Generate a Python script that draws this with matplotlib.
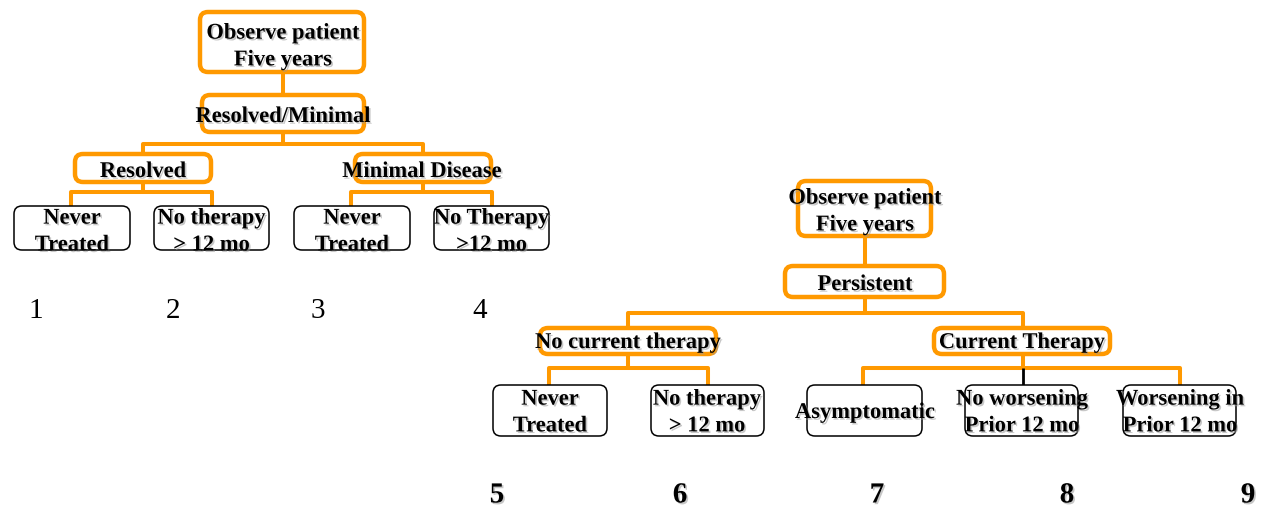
import matplotlib
matplotlib.use("Agg")
import matplotlib.pyplot as plt
from matplotlib.patches import FancyBboxPatch
import matplotlib.patheffects as pe

# ── Labels ────────────────────────────────────────────────────────────────────
LEFT_ROOT   = "Observe patient\nFive years"
LEFT_MID    = "Resolved/Minimal"
LEFT_BRANCH = ["Resolved", "Minimal Disease"]
LEFT_LEAVES = ["Never\nTreated", "No therapy\n> 12 mo", "Never\nTreated", "No Therapy\n>12 mo"]
LEFT_NUMS   = ["1", "2", "3", "4"]

RIGHT_ROOT   = "Observe patient\nFive years"
RIGHT_MID    = "Persistent"
RIGHT_BRANCH = ["No current therapy", "Current Therapy"]
RIGHT_LEAVES = ["Never\nTreated", "No therapy\n> 12 mo", "Asymptomatic",
                "No worsening\nPrior 12 mo", "Worsening in\nPrior 12 mo"]
RIGHT_NUMS   = ["5", "6", "7", "8", "9"]

ORANGE = "#FF9900"
FONT = "Liberation Serif"
SHADOW = [pe.SimplePatchShadow(offset=(1.2, -1.2), shadow_rgbFace="#999999", alpha=0.55),
          pe.Normal()]

fig = plt.figure(figsize=(12.64, 5.10), dpi=100)
ax = fig.add_axes([0, 0, 1, 1])
ax.set_xlim(0, 1264)
ax.set_ylim(510, 0)
ax.axis("off")


def line(xs, ys, color=ORANGE, lw=2.9):
    ax.plot(xs, ys, color=color, lw=lw, solid_capstyle="butt", zorder=1)


def box(x0, y0, x1, y1, orange=True):
    p = FancyBboxPatch((x0, y0), x1 - x0, y1 - y0,
                       boxstyle="round,pad=0,rounding_size=8",
                       fc="white", ec=ORANGE if orange else "black",
                       lw=3.2 if orange else 1.1, zorder=2)
    ax.add_patch(p)


def label(x, y, s, size=16.2, weight="bold"):
    # small downward nudge: va="center" counts the descender
    t = ax.text(x, y + 3, s, ha="center", va="center", fontsize=size,
                fontweight=weight, family=FONT, zorder=3, linespacing=1.45)
    t.set_path_effects(SHADOW)


# ── Left tree ─────────────────────────────────────────────────────────────────
line([283, 283], [73, 96])
line([283, 283], [133, 145])
line([143, 143, 423, 423], [155, 145, 145, 155])
for cx, (a, b) in zip([143, 423], [(71, 212), (351, 492)]):
    line([cx, cx], [183, 193])
    line([a, a, b, b], [207, 193, 193, 207])

box(200, 13, 364, 73)
label(283, 45, LEFT_ROOT)
box(202, 96, 364, 133)
label(283, 115, LEFT_MID)
for (x0, x1), cx, s in zip([(75, 211), (355, 491)], [143, 422], LEFT_BRANCH):
    box(x0, 155, x1, 183)
    label(cx, 170, s)

leaf_x = [(14, 130), (154, 269), (294, 410), (434, 549)]
for (x0, x1), s in zip(leaf_x, LEFT_LEAVES):
    box(x0, 207, x1, 251, orange=False)
    label((x0 + x1) / 2, 230, s)

for x, s in zip([36, 173, 318, 480], LEFT_NUMS):
    ax.text(x, 311, s, ha="center", va="center", fontsize=21,
            family=FONT, fontweight="normal")

# ── Right tree ────────────────────────────────────────────────────────────────
line([865, 865], [237, 267])
line([865, 865], [298, 314])
line([628, 628, 1023, 1023], [329, 314, 314, 329])
line([628, 628], [355, 369])
line([549, 549, 708, 708], [386, 369, 369, 386])
line([1023, 1023], [355, 369])
line([863, 863, 1180, 1180], [386, 369, 369, 386])
line([1023, 1023], [369, 386], color="black", lw=2.0)

box(798, 182, 931, 237)
label(865, 210, RIGHT_ROOT)
box(785, 267, 944, 298)
label(865, 283, RIGHT_MID)
for (x0, x1), cx, s in zip([(540, 716), (934, 1110)], [628, 1022], RIGHT_BRANCH):
    box(x0, 329, x1, 355)
    label(cx, 341, s)

leaf_x = [(493, 607), (651, 764), (807, 922), (965, 1078), (1123, 1236)]
leaf_cx = [550, 707, 865, 1022, 1180]
for (x0, x1), cx, s in zip(leaf_x, leaf_cx, RIGHT_LEAVES):
    box(x0, 386, x1, 437, orange=False)
    label(cx, 411, s)

for x, s in zip([497, 680, 877, 1067, 1248], RIGHT_NUMS):
    t = ax.text(x, 496, s, ha="center", va="center", fontsize=21,
                family=FONT, fontweight="bold")
    t.set_path_effects(SHADOW)

fig.savefig("out.png", dpi=100)
